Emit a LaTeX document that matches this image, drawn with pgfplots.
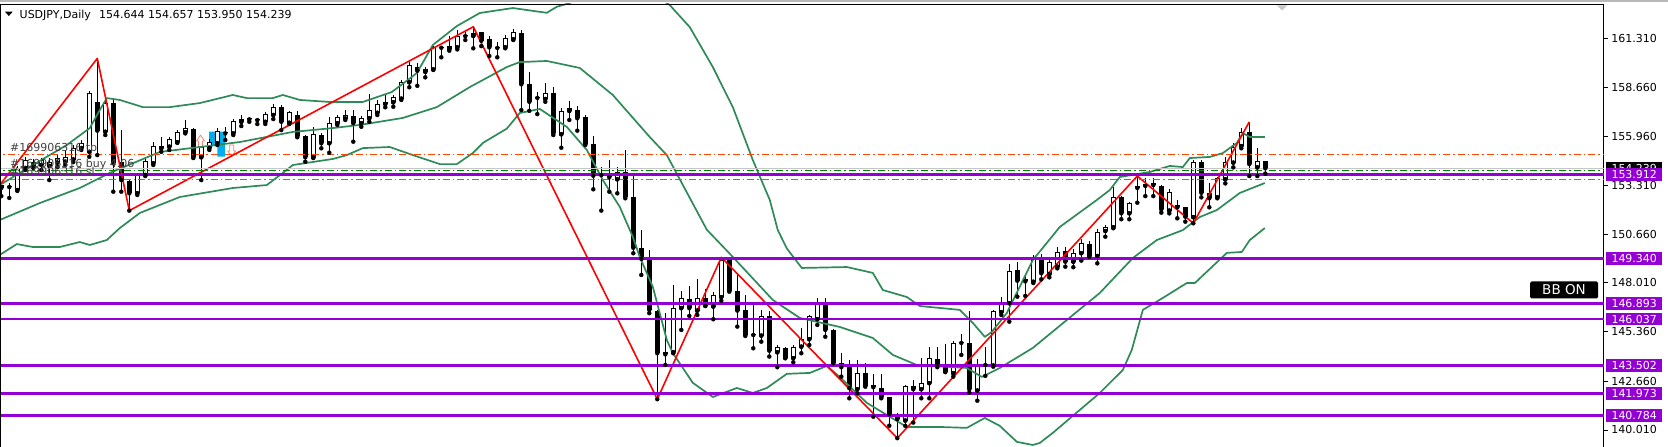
\documentclass[border=0pt]{standalone}
\usepackage{fontspec}
\setmainfont{DejaVu Sans}
\usepackage{pgfplots}
\usepackage{pgfplotstable}
\pgfplotsset{compat=1.18}

\definecolor{bband}{RGB}{46,139,87}
\definecolor{lvl}{RGB}{148,0,211}
\definecolor{tpsl}{RGB}{255,69,0}
\definecolor{entry}{RGB}{0,128,0}
\definecolor{sig}{RGB}{250,128,114}

% daily candles, n = bar index
\pgfplotstableread{
n o h l c
0 153.33 153.50 152.73 153.17
1 153.26 153.44 152.63 153.22
2 153.06 154.37 153.01 154.24
3 154.26 154.86 154.15 154.69
4 154.60 154.75 154.26 154.33
5 154.42 154.80 154.15 154.69
6 154.37 154.80 153.60 154.58
7 154.55 154.96 154.31 154.82
8 154.58 155.24 154.42 154.87
9 154.72 155.51 154.58 155.37
10 155.34 155.78 155.24 155.64
11 155.14 158.46 154.87 158.32
12 157.86 160.22 154.96 156.29
13 156.23 157.96 156.05 157.78
14 157.78 157.96 152.97 154.51
15 154.60 156.32 152.97 153.60
16 153.55 153.60 151.94 152.88
17 152.88 153.99 152.79 153.88
18 153.88 154.75 153.82 154.65
19 154.51 155.69 154.42 155.45
20 155.33 155.96 155.14 155.45
21 155.42 155.96 155.24 155.83
22 155.66 156.32 155.62 156.22
23 156.20 156.87 156.14 156.43
24 156.36 156.43 154.80 154.84
25 154.84 155.89 153.60 155.38
26 155.33 155.83 155.24 155.69
27 155.60 156.43 155.51 156.27
28 156.14 156.49 155.78 156.15
29 156.14 156.92 156.05 156.81
30 156.77 157.14 156.54 156.92
31 156.90 157.05 156.77 156.92
32 156.87 156.97 156.65 156.86
33 156.77 157.30 156.65 157.19
34 157.14 157.74 156.92 157.59
35 157.57 157.68 156.32 156.77
36 156.72 157.36 156.65 157.30
37 157.14 157.37 155.93 155.99
38 155.99 156.05 154.60 154.84
39 154.84 156.49 154.80 156.11
40 156.05 156.14 155.33 155.60
41 155.60 157.05 155.09 156.72
42 156.69 157.14 156.60 157.03
43 156.95 157.41 156.87 157.14
44 157.09 157.41 155.69 156.69
45 156.69 157.08 156.50 156.96
46 156.96 158.28 156.77 157.41
47 157.26 157.96 157.14 157.72
48 157.74 158.23 157.56 157.86
49 157.83 158.23 157.59 158.10
50 158.03 159.04 157.96 158.93
51 158.92 160.04 158.65 159.86
52 159.73 159.95 158.73 159.55
53 159.49 159.77 159.19 159.62
54 159.62 160.89 159.59 160.82
55 160.80 160.89 160.28 160.81
56 160.73 161.44 160.64 160.89
57 160.82 161.76 160.71 161.44
58 161.43 161.72 161.22 161.45
59 161.44 161.94 160.77 161.61
60 161.64 161.67 160.89 161.18
61 161.26 161.44 160.35 160.82
62 160.80 161.12 160.28 160.79
63 160.82 161.49 160.77 161.31
64 161.26 161.80 161.22 161.67
65 161.58 161.76 157.41 158.81
66 158.81 159.49 157.37 157.86
67 158.08 158.41 157.19 158.07
68 158.01 158.86 157.86 158.32
69 158.32 158.68 156.05 156.14
70 156.09 157.54 155.36 157.36
71 157.36 157.92 156.87 157.50
72 157.41 157.63 156.29 156.96
73 157.01 157.14 155.51 155.55
74 155.55 155.99 153.10 153.84
75 153.87 154.33 151.94 153.88
76 153.93 154.69 152.97 153.75
77 153.64 154.33 152.88 154.02
78 154.02 155.24 152.61 152.70
79 152.66 153.93 149.62 149.92
80 149.89 150.88 148.44 149.31
81 149.35 149.80 146.36 146.54
82 146.48 146.54 141.68 144.18
83 144.12 146.36 143.54 144.23
84 144.23 147.89 144.18 146.63
85 146.63 147.57 145.45 147.17
86 147.12 147.84 146.21 146.63
87 146.50 148.20 146.26 147.17
88 147.17 147.68 146.75 146.75
89 146.72 147.53 146.03 147.35
90 147.23 149.40 147.04 149.25
91 149.25 149.35 147.53 147.57
92 147.57 148.53 145.63 146.50
93 146.54 147.35 145.12 145.18
94 145.20 146.90 144.45 145.17
95 145.14 146.54 144.81 146.23
96 146.21 146.50 144.00 144.32
97 144.23 144.63 143.42 144.51
98 144.45 144.51 143.91 143.91
99 143.91 144.63 143.69 144.54
100 144.54 145.54 144.18 144.94
101 144.94 146.26 144.63 146.21
102 146.03 147.17 145.72 146.86
103 146.86 147.17 145.08 145.45
104 145.45 145.48 143.64 143.67
105 143.67 144.21 142.91 143.42
106 143.42 143.82 141.73 142.28
107 142.22 143.82 142.00 143.12
108 143.09 143.67 142.36 142.42
109 142.46 143.06 140.73 142.33
110 142.28 143.06 141.73 141.79
111 141.79 141.79 140.24 140.86
112 140.77 140.95 139.56 140.59
113 140.52 142.46 140.23 142.40
114 142.40 142.73 140.41 142.22
115 142.22 143.91 141.73 142.58
116 142.55 144.51 141.73 143.91
117 143.87 144.54 143.42 143.54
118 143.54 144.69 143.15 143.18
119 143.09 144.85 142.91 144.72
120 144.74 145.23 144.09 144.76
121 144.72 146.50 142.04 142.22
122 142.15 143.85 141.60 143.60
123 143.54 144.51 142.95 143.57
124 143.51 146.54 143.45 146.48
125 146.41 147.23 146.26 146.86
126 146.90 149.04 145.90 148.66
127 148.71 149.16 147.26 148.13
128 148.09 148.38 147.30 148.20
129 148.07 149.53 148.00 149.29
130 149.25 149.56 148.20 148.53
131 148.47 149.25 148.31 149.13
132 148.89 149.95 148.80 149.71
133 149.74 149.95 148.89 149.16
134 149.16 149.84 148.86 149.62
135 149.62 150.38 149.22 150.16
136 150.12 150.30 149.43 149.47
137 149.47 150.92 149.07 150.79
138 150.83 151.16 150.52 151.06
139 151.03 153.24 150.98 152.70
140 152.66 152.73 151.47 151.79
141 151.79 152.42 151.47 152.33
142 153.17 153.82 152.37 153.28
143 153.28 153.70 152.73 153.37
144 153.33 153.70 152.73 153.42
145 153.29 153.33 151.83 152.01
146 151.94 153.10 151.79 152.97
147 152.23 152.52 151.52 152.12
148 152.12 152.15 151.34 151.61
149 151.58 154.69 151.25 154.60
150 154.60 154.69 152.66 152.91
151 152.88 153.42 152.12 152.61
152 152.66 153.75 152.61 153.70
153 153.64 154.87 153.42 154.60
154 154.55 155.60 154.29 155.42
155 155.45 156.42 155.33 156.23
156 156.23 156.77 153.82 154.47
157 154.29 155.33 153.82 154.65
158 154.644 154.657 153.950 154.239
}\candles

% Bollinger bands
\pgfplotstableread{
n p
-0.19 153.33
3.94 154.42
8.19 155.51
11.06 156.43
12.31 157.41
13.19 158.06
14.81 157.96
17.69 157.57
21.06 157.57
24.81 157.79
28.94 158.23
30.69 158.06
33.94 158.06
35.19 158.23
37.31 157.96
41.06 157.85
45.19 157.85
48.81 158.39
51.94 159.42
53.94 160.95
56.94 161.98
59.81 162.69
63.94 162.96
68.19 162.70
69.44 163.03
71.06 163.23
74.81 164.21
79.81 164.21
83.56 163.12
86.06 161.92
88.94 159.75
91.44 157.57
93.94 154.69
96.06 152.52
97.06 150.88
98.19 149.88
100.06 148.82
105.69 148.87
108.94 148.55
110.19 147.62
111.44 147.46
113.19 147.24
114.81 146.75
119.81 146.54
121.44 145.83
122.94 145.07
123.81 145.34
125.69 146.37
128.94 149.25
132.31 151.05
136.94 152.52
138.56 153.06
139.81 153.77
143.56 154.04
146.06 154.37
147.69 154.31
148.56 154.80
151.06 154.86
152.69 155.07
154.44 155.62
155.19 156.16
156.06 155.94
157.94 155.94
}\bbup

\pgfplotstableread{
n p
-0.19 151.43
4.81 152.35
9.81 153.17
13.56 153.99
19.81 155.13
24.81 155.40
29.81 155.67
36.44 156.22
41.44 156.43
44.81 156.60
50.19 156.98
54.44 157.57
58.56 158.66
63.19 159.75
64.81 160.02
68.19 160.08
72.31 159.70
76.44 158.23
81.06 155.94
83.19 154.96
88.19 150.90
91.44 149.42
96.44 147.08
99.81 146.10
104.81 145.61
108.94 145.01
111.44 144.09
114.44 143.54
120.69 143.38
122.56 142.89
124.81 143.38
128.94 144.47
133.19 145.99
137.31 147.46
141.44 149.36
144.44 150.34
147.69 150.88
149.81 151.59
151.94 151.97
154.81 152.90
157.94 153.44
}\bbmid

\pgfplotstableread{
n p
-0.19 149.53
1.94 150.12
3.94 149.96
7.31 149.96
9.81 150.23
11.06 150.07
13.19 150.34
14.81 150.99
17.31 151.81
22.31 152.68
28.94 153.17
33.19 153.33
35.19 153.99
36.44 154.42
41.44 154.75
43.19 154.96
45.19 155.34
48.56 155.40
51.44 154.96
54.81 154.47
56.94 154.47
58.94 155.07
60.19 155.62
63.19 156.40
64.81 157.25
67.31 157.47
70.69 156.49
73.19 155.24
75.19 153.60
77.31 152.14
78.94 150.51
79.81 149.42
81.44 147.79
83.19 144.90
83.94 144.19
86.44 142.57
88.94 141.80
91.94 142.29
93.94 142.02
95.69 142.29
98.19 143.06
101.06 143.11
103.19 143.49
104.81 142.89
108.19 141.48
110.69 140.82
113.19 140.17
117.31 140.17
120.69 140.12
122.94 140.66
124.81 140.23
126.94 139.36
128.94 139.19
129.81 139.30
131.44 139.85
137.31 142.02
140.19 143.27
141.31 144.36
142.69 146.54
145.19 147.19
148.19 148.00
149.19 148.00
153.19 149.64
155.06 149.69
156.06 150.34
157.94 150.99
}\bblow

\begin{document}
\begin{tikzpicture}[x=1pt,y=1pt]
\begin{axis}[
  at={(1,0)}, anchor=south west,
  scale only axis, width=1603pt, height=443pt,
  xmin=-0.0625, xmax=200.31, ymin=139.08, ymax=163.18,
  hide x axis,
  axis y line*=right,
  y axis line style={black, line width=1pt},
  ytick={140.01,142.66,145.36,148.01,150.66,153.31,155.96,158.66,161.31},
  tick align=outside, major tick length=4pt,
  ytick style={black, line width=0.8pt},
  yticklabel style={font=\fontsize{11}{13}\selectfont, black,
    /pgf/number format/.cd, fixed, fixed zerofill, precision=3, assume math mode=true},
  every axis plot/.append style={line join=round},
]
% signal boxes
\addplot[fill=cyan, draw=none] coordinates {(25.97,156.23) (27.97,156.23) (27.97,154.87) (27.0,154.87) (27.0,155.45) (25.97,155.45)};

% candles: wicks, bodies, hollow up-bodies
\addplot[only marks, mark=none, error bars/.cd, y dir=plus, y explicit, error mark=none,
  error bar style={black, line width=1pt}]
  table[x=n, y=l, y error expr=\thisrow{h}-\thisrow{l}] {\candles};
\addplot[only marks, mark=none, error bars/.cd, y dir=plus, y explicit, error mark=none,
  error bar style={black, line width=5pt}]
  table[x=n, y expr={min(\thisrow{o},\thisrow{c})}, y error expr={max(abs(\thisrow{c}-\thisrow{o}),0.06)}] {\candles};
\addplot[only marks, mark=none,
  restrict expr to domain={\thisrow{c}-\thisrow{o}}{0.12:100},
  error bars/.cd, y dir=plus, y explicit, error mark=none,
  error bar style={white, line width=3pt, shorten <=1pt, shorten >=1pt}]
  table[x=n, y=o, y error expr=\thisrow{c}-\thisrow{o}] {\candles};

% signal arrows
\addplot[draw=sig, fill=white, line width=0.8pt] coordinates {(24.4,155.73) (24.9,156.05) (25.4,155.73) (25.15,155.73) (25.15,155.40) (24.65,155.40) (24.65,155.73) (24.4,155.73)};
\addplot[draw=sig, fill=white, line width=0.8pt] coordinates {(28.3,155.18) (28.8,154.91) (29.3,155.18) (29.05,155.18) (29.05,155.51) (28.55,155.51) (28.55,155.18) (28.3,155.18)};

% Bollinger bands
\addplot[bband, line width=1.7pt] table[x=n, y=p] {\bbup};
\addplot[bband, line width=1.7pt] table[x=n, y=p] {\bbmid};
\addplot[bband, line width=1.7pt] table[x=n, y=p] {\bblow};

% zigzag
\addplot[red, line width=1.6pt] coordinates {(-1,152.87) (12,160.22) (16,151.94) (59,161.94) (82,141.68) (90,149.40) (112,139.56) (142,153.82) (149,151.25) (156,156.77)};

% order levels
\addplot[tpsl, line width=0.9pt, dash pattern=on 7pt off 3pt on 1.5pt off 3pt] coordinates {(-1,155.00) (202,155.00)};
\addplot[tpsl, line width=0.9pt, dash pattern=on 7pt off 3pt on 1.5pt off 3pt] coordinates {(-1,153.66) (202,153.66)};
\addplot[gray!45, line width=0.9pt] coordinates {(-1,154.22) (202,154.22)};
\addplot[entry, line width=0.9pt, dash pattern=on 7pt off 3pt on 1.5pt off 3pt] coordinates {(-1,154.13) (202,154.13)};

% support / resistance levels
\addplot[lvl, line width=2.7pt] coordinates {(-1,153.912) (202,153.912)};
\addplot[lvl, line width=2.7pt] coordinates {(-1,149.340) (202,149.340)};
\addplot[lvl, line width=2.7pt] coordinates {(-1,146.893) (202,146.893)};
\addplot[lvl, line width=2.7pt] coordinates {(-1,146.037) (202,146.037)};
\addplot[lvl, line width=2.7pt] coordinates {(-1,143.502) (202,143.502)};
\addplot[lvl, line width=2.7pt] coordinates {(-1,141.973) (202,141.973)};
\addplot[lvl, line width=2.7pt] coordinates {(-1,140.784) (202,140.784)};

\coordinate (qb) at (axis cs:200.31,154.239);
\coordinate (q1) at (axis cs:200.31,153.912);
\coordinate (q2) at (axis cs:200.31,149.340);
\coordinate (q3) at (axis cs:200.31,146.893);
\coordinate (q4) at (axis cs:200.31,146.037);
\coordinate (q5) at (axis cs:200.31,143.502);
\coordinate (q6) at (axis cs:200.31,141.973);
\coordinate (q7) at (axis cs:200.31,140.784);
\end{axis}

% window frame
\fill[gray!55] (0,444.6) rectangle (1668,447);
\draw[black, line width=1.2pt] (0.6,0) -- (0.6,442.7) -- (1604,442.7);
\fill[gray!45] (1277,441.5) -- (1287,441.5) -- (1282,436.5) -- cycle;

% header
\fill[black] (5,435.3) -- (12.7,435.3) -- (8.85,431) -- cycle;
\node[anchor=base west, inner sep=0, font=\fontsize{11}{13}\selectfont] at (19.5,428.7) {USDJPY,Daily};
\node[anchor=base west, inner sep=0, font=\fontsize{11}{13}\selectfont] at (99,428.7) {154.644 154.657 153.950 154.239};

% order labels
\node[anchor=base west, inner sep=0, text=black!75, font=\fontsize{11}{13}\selectfont] at (10,295.3) {\#169906316 tp};
\node[anchor=base west, inner sep=0, text=black!75, font=\fontsize{11}{13}\selectfont] at (10,279.5) {\#169906316 buy 4.06};
\node[anchor=base west, inner sep=0, text=black!75, font=\fontsize{11}{13}\selectfont] at (10,271) {\#169906316 sl};

% BB ON badge
\node[fill=black, text=white, rounded corners=1.5pt, minimum width=68pt, minimum height=17pt, inner sep=0, font=\fontsize{13.5}{15}\selectfont] at (1564,157) {BB ON};

% price labels on the scale
\tikzset{plab/.style={anchor=west, inner xsep=5.5pt, inner ysep=0pt, minimum height=12.7pt, text height=8pt, text depth=0pt, font=\fontsize{11}{13}\selectfont, text=white}}
\node[plab, fill=black] at ([xshift=2pt]qb) {154.239};
\node[plab, fill=lvl] at ([xshift=2pt]q1) {153.912};
\node[plab, fill=lvl] at ([xshift=2pt]q2) {149.340};
\node[plab, fill=lvl] at ([xshift=2pt]q3) {146.893};
\node[plab, fill=lvl] at ([xshift=2pt]q4) {146.037};
\node[plab, fill=lvl] at ([xshift=2pt]q5) {143.502};
\node[plab, fill=lvl] at ([xshift=2pt]q6) {141.973};
\node[plab, fill=lvl] at ([xshift=2pt]q7) {140.784};

\pgfresetboundingbox
\path (0,0) rectangle (1668,447);
\end{tikzpicture}
\end{document}
